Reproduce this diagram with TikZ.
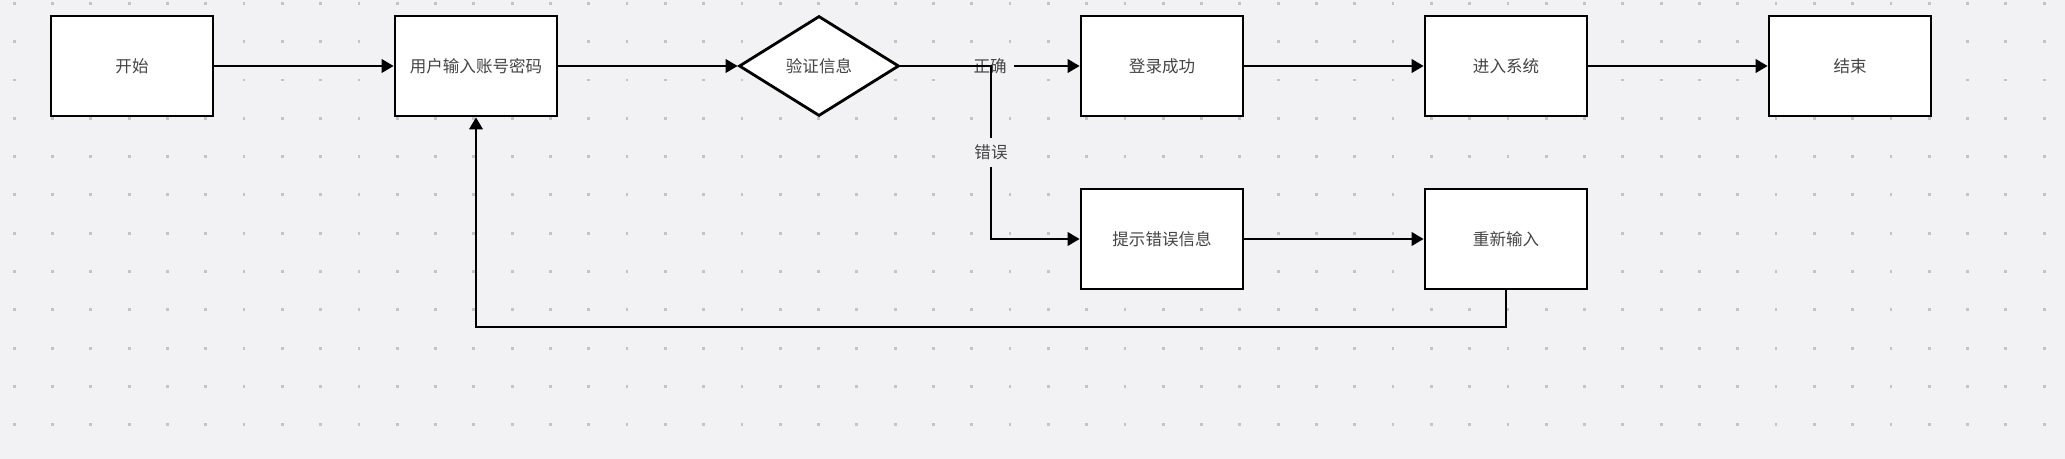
\documentclass[tikz,border=0pt]{standalone}
\usepackage{fontspec}
\setmainfont{Noto Sans CJK SC}
\usepackage{tikz}
\usetikzlibrary{arrows.meta}
\usetikzlibrary{shapes.geometric}
\definecolor{bgc}{HTML}{F2F2F4}
\definecolor{dotc}{HTML}{C4C4C8}
\definecolor{txtc}{HTML}{444444}

\begin{document}
\begin{tikzpicture}[
            x=0.02cm,
            y=-0.02cm,
            box/.style={
                rectangle,
                draw=black,
                fill=white,
                line width=1.6pt,
                minimum width=3.24cm,
                minimum height=2cm,
                inner sep=0pt,
                font=\fontsize{9.4}{11}\selectfont,
                text=txtc
            },
            dec/.style={
                diamond,
                draw=black,
                fill=white,
                line width=1.6pt,
                aspect=1.6,
                minimum width=3.2cm,
                minimum height=2cm,
                inner sep=0pt,
                font=\fontsize{9.4}{11}\selectfont,
                text=txtc
            },
            ed/.style={
                draw=black,
                line width=1.3pt,
                -{Triangle[length=0.24cm,width=0.27cm]}
            },
            lab/.style={
                fill=bgc,
                inner xsep=4.5pt,
                inner ysep=4pt,
                font=\fontsize{9.4}{11}\selectfont,
                text=txtc
            }
        ]

            % Canvas and dot grid
            \useasboundingbox[fill=bgc] (0,0) rectangle (2065,459);
            \foreach \i in {0,...,53}
                \foreach \j in {0,...,11}
                    \fill[dotc] (12.8+38.3*\i,2+38.3*\j) rectangle ++(2.8,2.8);

            % Main row
            \node[box] (start) at (132,66) {开始};
            \node[box] (input) at (476,66) {用户输入账号密码};
            \node[dec] (check) at (819,66) {验证信息};
            \node[box] (ok) at (1162,66) {登录成功};
            \node[box] (enter) at (1506,66) {进入系统};
            \node[box] (finish) at (1850,66) {结束};

            % Error row
            \node[box] (hint) at (1162,239) {提示错误信息};
            \node[box] (retry) at (1506,239) {重新输入};

            % Helper points
            \coordinate (fork) at (991,66);
            \coordinate (back) at (1506,327);

            % Edges
            \draw[ed] (start) -- (input);
            \draw[ed] (input) -- (check);
            \draw[ed] (check) -- node[lab] {正确} (ok);
            \draw[ed] (check.east) -- (fork) |- node[lab, pos=0.25] {错误} (hint.west);
            \draw[ed] (ok) -- (enter);
            \draw[ed] (enter) -- (finish);
            \draw[ed] (hint) -- (retry);
            \draw[ed] (retry.south) -- (back) -| (input.south);

        \end{tikzpicture}
\end{document}
